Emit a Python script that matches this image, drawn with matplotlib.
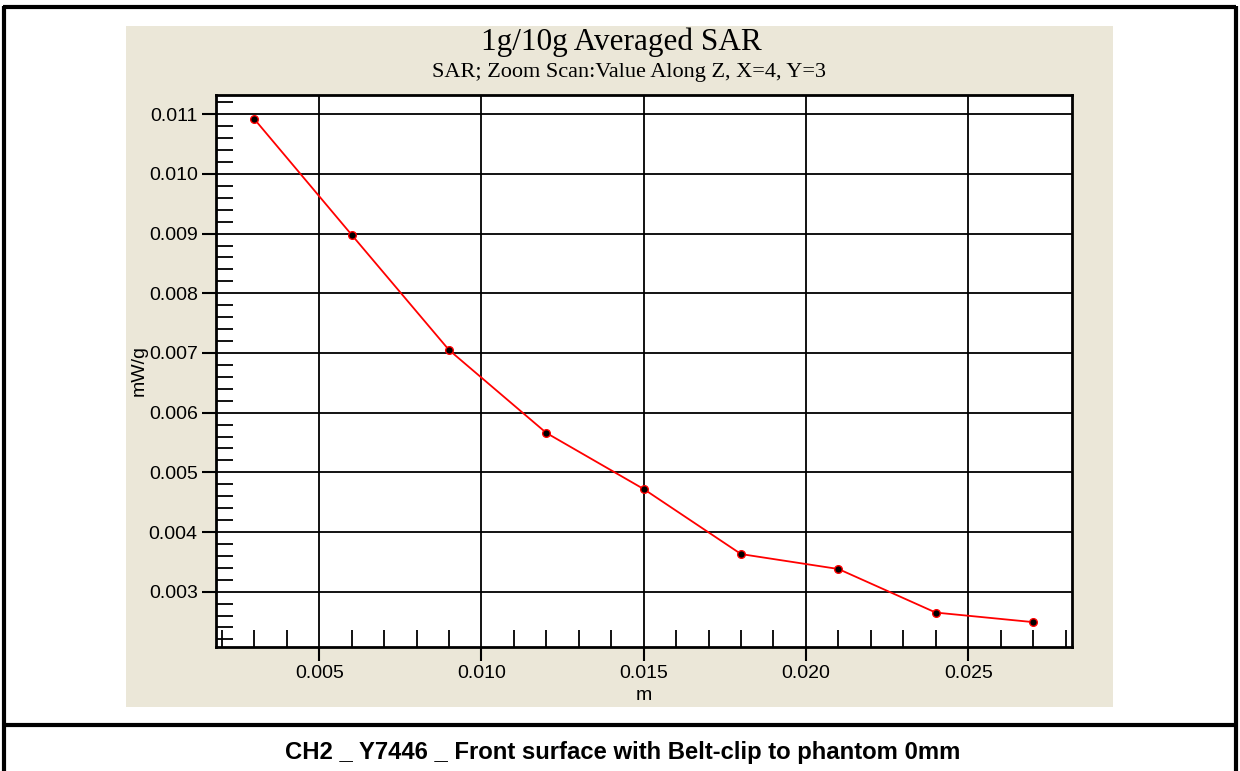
import numpy as np
import matplotlib
matplotlib.use('Agg')
import matplotlib.pyplot as plt
from matplotlib.patches import Rectangle
from matplotlib.lines import Line2D
from matplotlib.ticker import MultipleLocator, FormatStrFormatter

# data
depth_m = [0.003, 0.006, 0.009, 0.012, 0.015, 0.018, 0.021, 0.024, 0.027]
sar_mwg = [0.01092, 0.00898, 0.00705, 0.00566, 0.00472, 0.00363, 0.00338, 0.00265, 0.00249]

title = '1g/10g Averaged SAR'
subtitle = 'SAR; Zoom Scan:Value Along Z, X=4, Y=3'
caption = 'CH2 _ Y7446 _ Front surface with Belt-clip to phantom 0mm'

W, H = 1240, 771
fig = plt.figure(figsize=(W / 100, H / 100), dpi=100)
fig.patch.set_facecolor('white')

def fx(px):
    return px / W

def fy(py):
    return 1 - py / H

# beige panel behind the chart
fig.patches.append(Rectangle((fx(126), fy(707)), fx(1113) - fx(126), fy(26) - fy(707),
                             transform=fig.transFigure, facecolor='#ebe7d8',
                             edgecolor='none', zorder=-10))

# outer frame and divider
for (x0, y0, x1, y1) in [(3, 6.5, 1236, 6.5), (3.5, 6, 3.5, 771), (1235.5, 6, 1235.5, 771),
                         (3, 725, 1236, 725)]:
    fig.lines.append(Line2D([fx(x0), fx(x1)], [fy(y0), fy(y1)], transform=fig.transFigure,
                            color='black', lw=3, solid_capstyle='butt'))

ax = fig.add_axes([fx(215.7), fy(647), fx(1071.7) - fx(215.7), fy(95) - fy(647)])
ax.set_facecolor('white')

ax.plot(depth_m, sar_mwg, color='red', lw=1.3, marker='o', ms=5.5,
        mfc='black', mec='red', mew=1.0, zorder=3)

ax.set_xlim(0.00181, 0.02819)
ax.set_ylim(0.002073, 0.011323)

ax.xaxis.set_major_locator(MultipleLocator(0.005))
ax.xaxis.set_minor_locator(MultipleLocator(0.001))
ax.yaxis.set_major_locator(MultipleLocator(0.001))
ax.yaxis.set_minor_locator(MultipleLocator(0.0002))
ax.xaxis.set_major_formatter(FormatStrFormatter('%.3f'))
ax.yaxis.set_major_formatter(FormatStrFormatter('%.3f'))

ax.grid(True, which='major', color='black', lw=1.3)
ax.set_axisbelow(True)

ax.tick_params(which='major', direction='out', length=10, width=1.5, colors='black',
               labelsize=14, pad=3)
ax.tick_params(which='minor', direction='in', length=12, width=1.3, colors='black')
ax.tick_params(top=False, right=False, which='both')
for lab in ax.get_xticklabels() + ax.get_yticklabels():
    lab.set_fontfamily('Liberation Sans')

for s in ax.spines.values():
    s.set_linewidth(2)
    s.set_color('black')

ax.set_xlabel('m', fontsize=14, family='Liberation Sans')
ax.set_ylabel('mW/g', fontsize=14, family='Liberation Sans')
ax.xaxis.set_label_coords(0.5, -0.073)
ax.yaxis.set_label_coords(-0.08, 0.5)

fig.text(fx(621), fy(42), title, ha='center', va='center', fontsize=22.5,
         family='Liberation Serif')
fig.text(fx(629), fy(73), subtitle, ha='center', va='center', fontsize=16,
         family='Liberation Serif')
fig.text(fx(623), fy(752), caption, ha='center', va='center', fontsize=17.2,
         family='Liberation Sans', fontweight='bold')

fig.savefig('out.png', dpi=100)
